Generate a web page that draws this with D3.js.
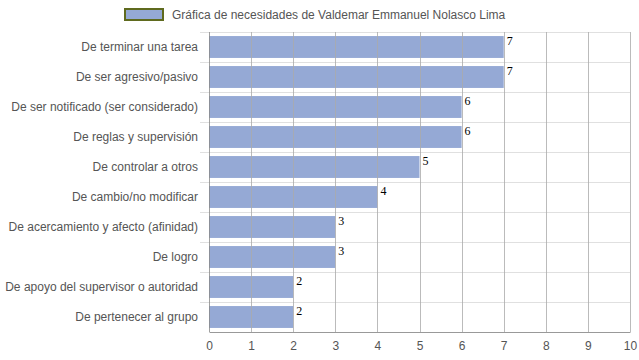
<!DOCTYPE html>
<html><head><meta charset="utf-8">
<script src="https://cdn.jsdelivr.net/npm/d3@7"></script>
<style>body{margin:0;background:#fff}svg{display:block}</style>
</head><body>
<script>
const categories = ["De terminar una tarea","De ser agresivo/pasivo","De ser notificado (ser considerado)","De reglas y supervisión","De controlar a otros","De cambio/no modificar","De acercamiento y afecto (afinidad)","De logro","De apoyo del supervisor o autoridad","De pertenecer al grupo"];
const values = [7,7,6,6,5,4,3,3,2,2];
const xTicks = [0,1,2,3,4,5,6,7,8,9,10];
const seriesName = "Gráfica de necesidades de Valdemar Emmanuel Nolasco Lima";

const W=639,H=360;
const m={l:209,r:9,t:32,b:28};
const svg=d3.select("body").append("svg").attr("width",W).attr("height",H);
const x=d3.scaleLinear().domain([0,10]).range([m.l,W-m.r]);
const y=d3.scaleBand().domain(categories).range([m.t,H-m.b]).paddingInner(0.27).paddingOuter(0.135);
const step=y.step();

// horizontal band lines
svg.append("g").selectAll("line").data(d3.range(categories.length)).join("line")
  .attr("x1",m.l-9).attr("x2",W-m.r)
  .attr("y1",i=>Math.round(m.t+i*step)+0.5).attr("y2",i=>Math.round(m.t+i*step)+0.5)
  .attr("stroke","#e0e0e0");

// bars
svg.append("g").selectAll("rect").data(values).join("rect")
  .attr("x",x(0)).attr("y",(d,i)=>y(categories[i]))
  .attr("width",d=>x(d)-x(0)).attr("height",y.bandwidth())
  .attr("fill","#95a9d5");

// vertical grid
svg.append("g").selectAll("line").data(xTicks).join("line")
  .attr("x1",d=>Math.round(x(d))+0.5).attr("x2",d=>Math.round(x(d))+0.5)
  .attr("y1",m.t).attr("y2",H-m.b)
  .attr("stroke",d=>d===0?"#888":"#aaa").attr("stroke-opacity",0.8);

// bottom axis
const ax=svg.append("g").attr("transform",`translate(0,${H-m.b})`)
  .call(d3.axisBottom(x).tickValues(xTicks).tickSize(0).tickPadding(9));
ax.select(".domain").attr("stroke","#999");
ax.selectAll("text").attr("fill","#555").attr("font-family","Arial, 'Liberation Sans', sans-serif").attr("font-size",12);

// category labels
svg.append("g").selectAll("text").data(categories).join("text")
  .attr("x",m.l-11).attr("y",d=>y(d)+y.bandwidth()/2+4)
  .attr("text-anchor","end").attr("fill","#555")
  .attr("font-family","Arial, 'Liberation Sans', sans-serif").attr("font-size",12)
  .text(d=>d);

// value labels
svg.append("g").selectAll("text").data(values).join("text")
  .attr("x",d=>x(d)+3).attr("y",(d,i)=>y(categories[i])+9)
  .attr("fill","#000").attr("font-family","'Liberation Serif', 'Times New Roman', serif").attr("font-size",12)
  .text(d=>d);

// legend
svg.append("rect").attr("x",125).attr("y",9).attr("width",38).attr("height",11)
  .attr("fill","#95a9d5").attr("stroke","#5f6a1e").attr("stroke-width",2);
svg.append("text").attr("x",172).attr("y",19).attr("fill","#555")
  .attr("font-family","Arial, 'Liberation Sans', sans-serif").attr("font-size",12)
  .text(seriesName);
</script>
</body></html>
